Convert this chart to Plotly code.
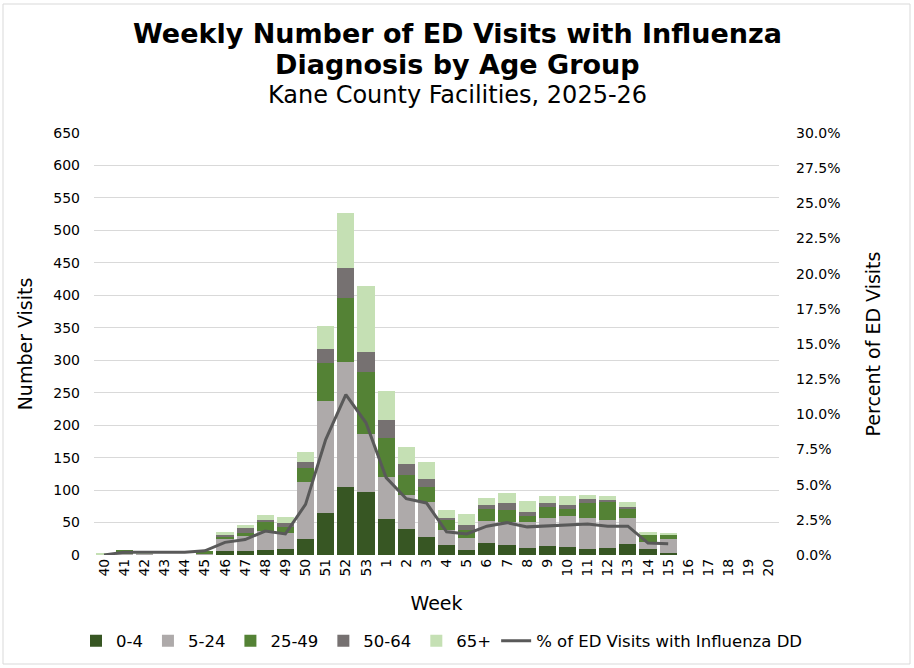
import plotly.graph_objects as go

# Weeks of the 2025-26 season (MMWR weeks)
weeks = [str(w) for w in range(40, 54)] + [str(w) for w in range(1, 21)]

# ED visits with influenza diagnosis, by age group
age_0_4 = [0, 0, 0, 0, 0, 0, 6, 6, 8, 9, 25, 65, 105, 97, 55, 40, 28, 15, 8, 18,
           15, 11, 14, 12, 9, 11, 17, 9, 3, None, None, None, None, None]
age_5_24 = [1, 2, 3, 0, 0, 3, 18, 23, 29, 25, 87, 172, 192, 89, 65, 52, 54, 23, 18, 34,
            36, 40, 43, 48, 48, 43, 40, 11, 22, None, None, None, None, None]
age_25_49 = [0, 5, 0, 0, 0, 3, 5, 5, 14, 9, 22, 58, 99, 96, 60, 31, 23, 16, 12, 19,
             18, 9, 17, 11, 23, 28, 14, 11, 6, None, None, None, None, None]
age_50_64 = [0, 0, 0, 0, 0, 0, 3, 8, 3, 6, 9, 22, 46, 31, 28, 17, 12, 3, 8, 6,
             11, 6, 6, 6, 6, 3, 3, 1, 1, None, None, None, None, None]
age_65 = [1, 0, 2, 0, 0, 0, 3, 4, 8, 10, 16, 36, 85, 101, 45, 26, 26, 12, 17, 11,
          15, 17, 11, 14, 6, 6, 8, 3, 2, None, None, None, None, None]

# Percent of all ED visits with influenza DD
pct_flu = [0.0, 0.2, 0.2, 0.2, 0.2, 0.3, 0.9, 1.1, 1.7, 1.5, 3.6, 8.2, 11.4, 9.4, 5.5,
           4.0, 3.7, 1.65, 1.5, 2.05, 2.3, 2.0, 2.05, 2.1, 2.2, 2.05, 2.05, 0.85, 0.8,
           None, None, None, None, None]

series = [
    ("0-4", age_0_4, "#375623"),
    ("5-24", age_5_24, "#AEAAAA"),
    ("25-49", age_25_49, "#548235"),
    ("50-64", age_50_64, "#767171"),
    ("65+", age_65, "#C5E0B4"),
]

FONT = "DejaVu Sans"

fig = go.Figure()

for name, vals, col in series:
    fig.add_trace(go.Bar(x=weeks, y=vals, name=name, marker_color=col,
                         marker_line_width=0))

fig.add_trace(go.Scatter(x=weeks, y=pct_flu, name="% of ED Visits with Influenza DD",
                         mode="lines", line=dict(color="#595959", width=3),
                         yaxis="y2"))

# plot area is 685 x 422 px; helpers to place things in paper units
def px_x(p):
    return (p - 94) / 685

def px_y(p):
    return (555 - p) / 422

titles = [
    ("<b>Weekly Number of ED Visits with Influenza</b>", 33, 27),
    ("<b>Diagnosis by Age Group</b>", 64, 27),
    ("Kane County Facilities, 2025-26", 95, 24),
]

fig.update_layout(
    width=914, height=668,
    barmode="stack", bargap=0.15,
    plot_bgcolor="white", paper_bgcolor="white",
    font=dict(family=FONT, size=14, color="#000000"),
    margin=dict(l=94, r=135, t=133, b=113, autoexpand=False),
    xaxis=dict(type="category", tickangle=-90, showgrid=False, automargin=False,
               title=dict(text="Week", font=dict(size=19), standoff=21),
               tickfont=dict(size=14), ticks=""),
    yaxis=dict(range=[0, 650], dtick=50, gridcolor="#D9D9D9", zeroline=False,
               automargin=False, ticklabelstandoff=13,
               title=dict(text="Number Visits", font=dict(size=19), standoff=15),
               tickfont=dict(size=14), ticks=""),
    yaxis2=dict(overlaying="y", side="right", range=[0, 30], dtick=2.5,
                tickformat=".1f", ticksuffix="%", showgrid=False, zeroline=False,
                automargin=False, ticklabelstandoff=16,
                title=dict(text="Percent of ED Visits", font=dict(size=19), standoff=27),
                tickfont=dict(size=14), ticks=""),
    legend=dict(orientation="h", x=px_x(76), xanchor="left", y=px_y(641), yanchor="middle",
                font=dict(size=16.5), traceorder="normal", itemwidth=30),
    annotations=[dict(text=t, xref="paper", yref="paper", x=px_x(457), y=px_y(py),
                      xanchor="center", yanchor="middle", showarrow=False,
                      font=dict(family=FONT, size=s, color="#000000"))
                 for t, py, s in titles],
    shapes=[dict(type="rect", xref="paper", yref="paper",
                 x0=px_x(3), x1=px_x(910), y0=px_y(664), y1=px_y(4),
                 line=dict(color="#D9D9D9", width=1))],
)

# drop the browser's default 8px body margin so the figure sits at the page corner
fig.write_html("out.html", config={"displayModeBar": False},
               post_script="document.body.style.margin='0';")
